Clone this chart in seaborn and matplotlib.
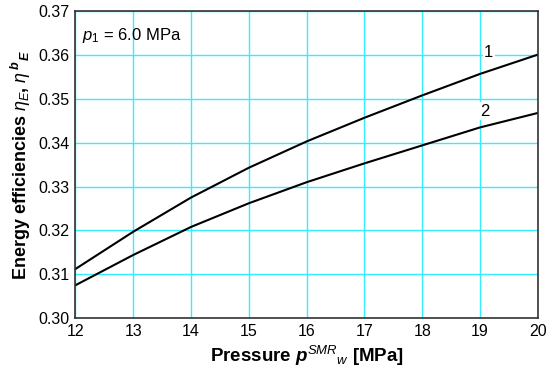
import matplotlib
matplotlib.use("Agg")
import matplotlib.pyplot as plt
import pandas as pd
import seaborn as sns

pressure = [12, 13, 14, 15, 16, 17, 18, 19, 20]
eff_1 = [0.3112, 0.3197, 0.3275, 0.3343, 0.3403, 0.3457, 0.3508, 0.3557, 0.3601]
eff_2 = [0.3075, 0.3144, 0.3208, 0.3262, 0.3310, 0.3353, 0.3394, 0.3435, 0.3468]
curve_names = ["1", "2"]

df = pd.DataFrame({
    "p": pressure * 2,
    "eta": eff_1 + eff_2,
    "curve": [curve_names[0]] * len(pressure) + [curve_names[1]] * len(pressure),
})

sns.set_theme(style="white", rc={"text.color": "black", "axes.labelcolor": "black",
                                 "xtick.color": "black", "ytick.color": "black"})
plt.rcParams["font.family"] = ["Liberation Sans", "DejaVu Sans"]
plt.rcParams["mathtext.fontset"] = "custom"
plt.rcParams["mathtext.rm"] = "Liberation Sans"
plt.rcParams["mathtext.it"] = "Liberation Sans:italic"
plt.rcParams["mathtext.bf"] = "Liberation Sans:bold"
plt.rcParams["mathtext.bfit"] = "Liberation Sans:italic:bold"

fig, ax = plt.subplots(figsize=(5.5, 3.73), dpi=100)
sns.lineplot(data=df, x="p", y="eta", hue="curve", palette=["black", "black"],
             linewidth=1.5, legend=False, ax=ax)

ax.set_xlim(12, 20)
ax.set_ylim(0.30, 0.37)
ax.set_xticks(range(12, 21))
ax.set_yticks([0.30, 0.31, 0.32, 0.33, 0.34, 0.35, 0.36, 0.37])
ax.set_yticklabels([f"{v:.2f}" for v in ax.get_yticks()])
ax.grid(True, color="#33EEFF", linewidth=1.0)
ax.set_axisbelow(True)
for s in ax.spines.values():
    s.set_color("#333333")
    s.set_linewidth(1.2)
ax.tick_params(labelsize=11.5, length=0, pad=4)

ax.set_xlabel(r"Pressure $\mathbfit{p}^{SMR}{}_{w}$ [MPa]",
              fontsize=13.5, fontweight="bold")
ax.set_ylabel(r"Energy efficiencies $\eta_E$, $\eta\,{}^{\mathbfit{b}}{}_{\mathbfit{E}}$",
              fontsize=13, fontweight="bold")

ax.text(12.12, 0.3645, r"$p_1$ = 6.0 MPa", fontsize=12, va="center")
ax.text(19.15, 0.3606, curve_names[0], fontsize=12, ha="center", va="center",
        bbox=dict(facecolor="white", edgecolor="none", pad=1))
ax.text(19.08, 0.3472, curve_names[1], fontsize=12, ha="center", va="center",
        bbox=dict(facecolor="white", edgecolor="none", pad=1))

fig.subplots_adjust(left=0.137, right=0.978, top=0.97, bottom=0.147)
fig.savefig("out.png", dpi=100)
